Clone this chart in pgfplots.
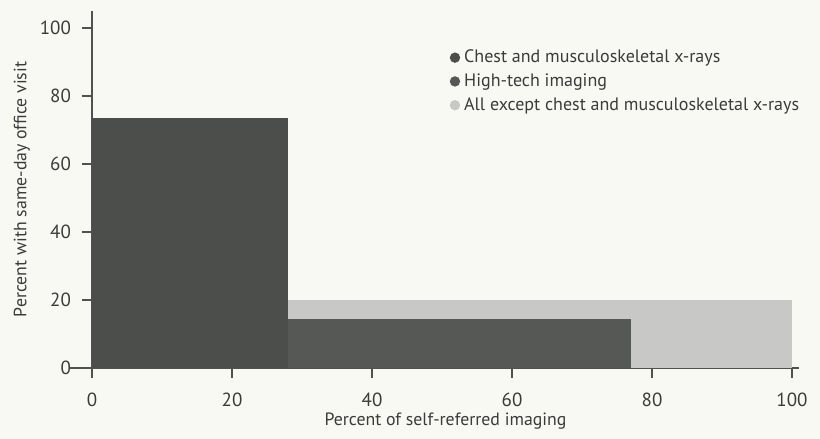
\documentclass[border=0pt]{standalone}
\usepackage{fontspec}
\setmainfont{PT Sans}
\usepackage{pgfplots}
\pgfplotsset{compat=1.18}
\definecolor{bg}{HTML}{F9F9F4}
\definecolor{darkA}{HTML}{4B4E4B}
\definecolor{darkB}{HTML}{555855}
\definecolor{lightC}{HTML}{C8C9C7}
\definecolor{axc}{HTML}{505250}
\definecolor{txt}{HTML}{3A3C3A}
\begin{document}
\begin{tikzpicture}
\fill[bg] (-46pt,-35.5pt) rectangle (364pt,184pt);
\begin{axis}[
  at={(0,0)}, anchor=origin,
  scale only axis, width=353.5pt, height=178.5pt,
  xmin=0, xmax=101, ymin=0, ymax=105,
  axis x line=bottom, axis y line=left,
  axis line style={draw=axc, line width=1pt, -},
  x axis line style={shorten <=-11pt},
  xtick={0,20,...,100}, ytick={0,20,...,100},
  tick align=outside, major tick length=5pt,
  tick style={draw=axc, line width=0.8pt},
  /pgf/number format/assume math mode=true,
  ticklabel style={font=\fontsize{9.5}{11}\selectfont, text=txt},
  xticklabel style={yshift=-4pt},
  yticklabel style={xshift=-2pt},
  xlabel={Percent of self-referred imaging},
  ylabel={Percent with same-day office visit},
  label style={font=\fontsize{8.9}{10}\selectfont, text=txt},
  xlabel style={yshift=4pt},
  ylabel style={yshift=-2pt},
  reverse legend,
  legend style={at={(0.497,0.915)}, anchor=north west, draw=none, fill=none,
    font=\fontsize{9}{10}\selectfont, text=txt, row sep=0pt,
    /tikz/every even column/.append style={column sep=3.5pt}},
  legend cell align=left,
]
\addplot[ybar interval, fill=lightC, draw=none,
  legend image code/.code={\fill[lightC] (0.1cm,0) circle (2.6pt);}]
  coordinates {(28,20) (100,20)};
\addlegendentry{All except chest and musculoskeletal x-rays}
\addplot[ybar interval, fill=darkB, draw=none,
  legend image code/.code={\fill[darkB] (0.1cm,0) circle (2.6pt);}]
  coordinates {(28,14.4) (77,14.4)};
\addlegendentry{High-tech imaging}
\addplot[ybar interval, fill=darkA, draw=none,
  legend image code/.code={\fill[darkA] (0.1cm,0) circle (2.6pt);}]
  coordinates {(0,73.5) (28,73.5)};
\addlegendentry{Chest and musculoskeletal x-rays}
\end{axis}
\end{tikzpicture}
\end{document}
